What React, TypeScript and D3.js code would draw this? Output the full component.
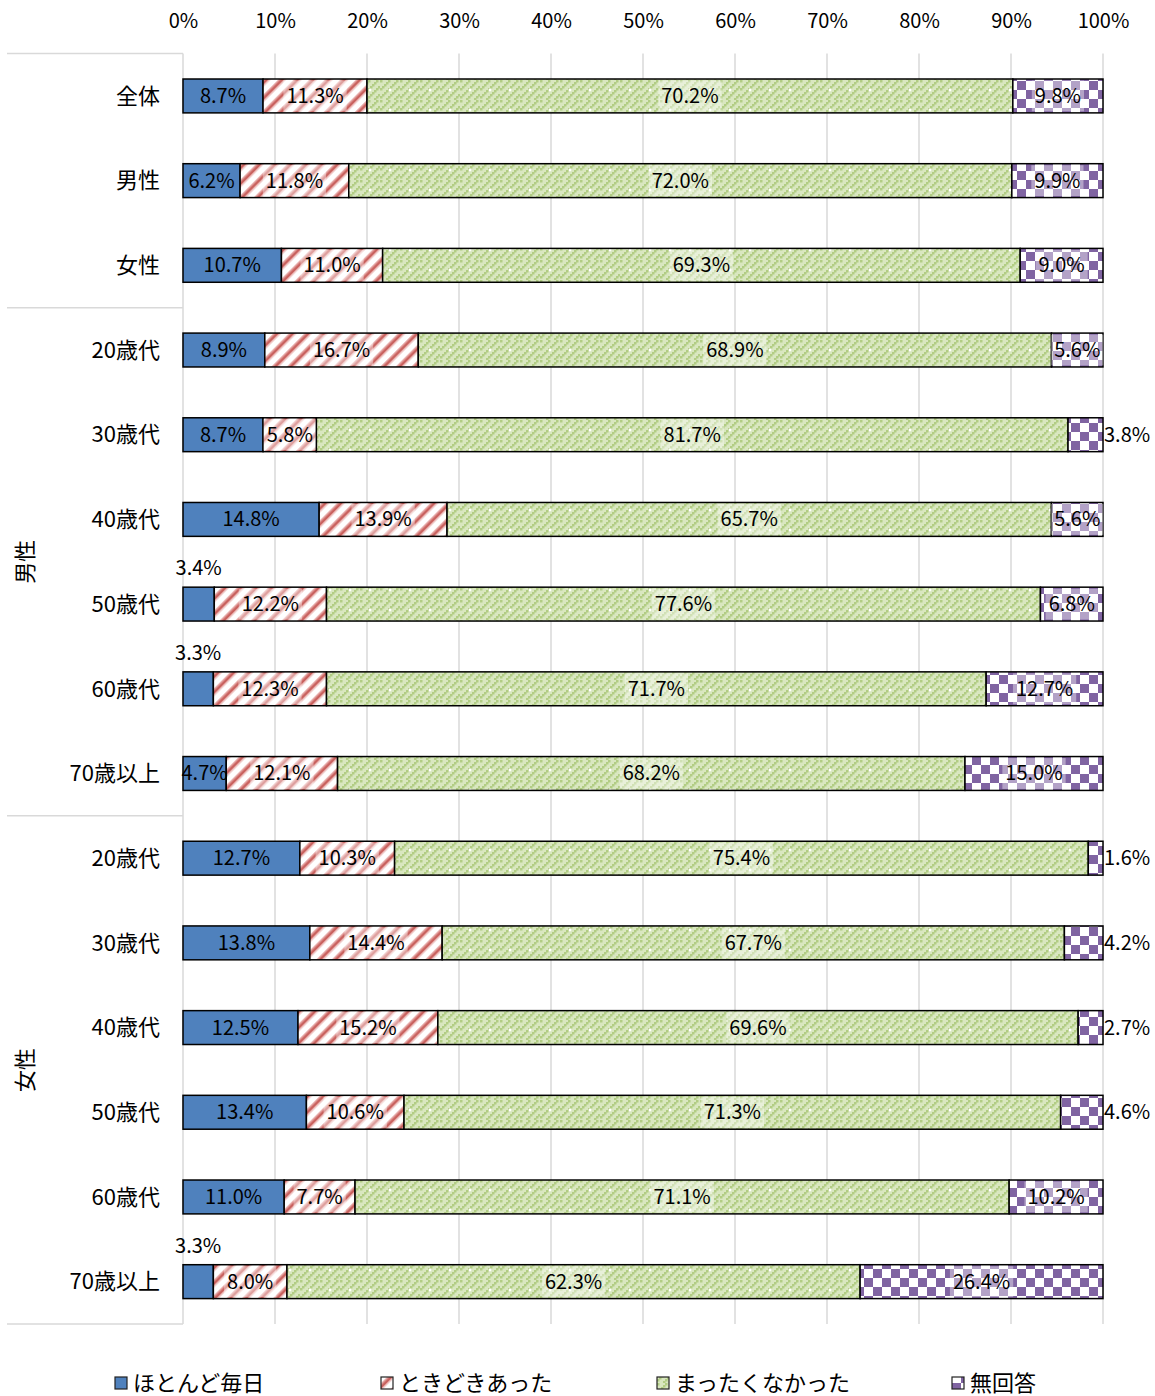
import React, { useEffect, useRef } from 'react';
import * as d3 from 'd3';

// row labels, top to bottom
const rowLabels = ['全体', '男性', '女性', '20歳代', '30歳代', '40歳代', '50歳代', '60歳代', '70歳以上', '20歳代', '30歳代', '40歳代', '50歳代', '60歳代', '70歳以上'];
const seriesNames = ['ほとんど毎日', 'ときどきあった', 'まったくなかった', '無回答'];

const almostDaily = [8.7, 6.2, 10.7, 8.9, 8.7, 14.8, 3.4, 3.3, 4.7, 12.7, 13.8, 12.5, 13.4, 11.0, 3.3];
const sometimes = [11.3, 11.8, 11.0, 16.7, 5.8, 13.9, 12.2, 12.3, 12.1, 10.3, 14.4, 15.2, 10.6, 7.7, 8.0];
const never = [70.2, 72.0, 69.3, 68.9, 81.7, 65.7, 77.6, 71.7, 68.2, 75.4, 67.7, 69.6, 71.3, 71.1, 62.3];
const noAnswer = [9.8, 9.9, 9.0, 5.6, 3.8, 5.6, 6.8, 12.7, 15.0, 1.6, 4.2, 2.7, 4.6, 10.2, 26.4];

// group brackets on the left: [label, first row, last row]
const groups: [string, number, number][] = [['', 0, 2], ['男性', 3, 8], ['女性', 9, 14]];

const tickValues = [0, 0.1, 0.2, 0.3, 0.4, 0.5, 0.6, 0.7, 0.8, 0.9, 1.0];

// labels drawn outside the bar: key = row-series
const aboveLabels = ['6-0', '7-0', '14-0'];
const rightLabels = ['4-3', '9-3', '10-3', '11-3', '12-3'];

const FONT = '"Noto Sans CJK JP", "Noto Sans", sans-serif';
const fills = ['#4f81bd', 'url(#pRed)', 'url(#pGreen)', 'url(#pPurple)'];

export default function App() {
  const ref = useRef<SVGSVGElement>(null);

  useEffect(() => {
    const svg = d3.select(ref.current);
    svg.selectAll('.chart').remove();
    const g = svg.append('g').attr('class', 'chart');

    const x = d3.scaleLinear().domain([0, 1]).range([183, 1103]);
    const y = d3.scaleBand<number>()
      .domain(d3.range(rowLabels.length))
      .range([53.6, 1324])
      .paddingInner(0.6)
      .paddingOuter(0.3);
    const step = y.step();
    const top = 53.6, bottom = 1324;

    // grid
    g.append('g').selectAll('line').data(tickValues.slice(1)).join('line')
      .attr('x1', d => x(d)).attr('x2', d => x(d))
      .attr('y1', top).attr('y2', bottom)
      .attr('stroke', '#d9d9d9').attr('stroke-width', 1.5);

    // top axis
    const axis = g.append('g').attr('transform', 'translate(0,21)')
      .call(d3.axisTop(x).tickValues(tickValues).tickSize(0).tickFormat(d3.format('.0%')));
    axis.select('.domain').remove();
    axis.selectAll('text').attr('font-family', FONT).attr('font-size', 20).attr('fill', '#000')
      .attr('dy', '0.35em').attr('y', 0);

    // left axis line and group separators
    g.append('line').attr('x1', 183).attr('x2', 183).attr('y1', top).attr('y2', bottom)
      .attr('stroke', '#d9d9d9').attr('stroke-width', 1.5);
    const seps = [0, 3, 9, 15].map(i => top + i * step);
    g.append('g').selectAll('line').data(seps).join('line')
      .attr('x1', 7).attr('x2', 183).attr('y1', d => d).attr('y2', d => d)
      .attr('stroke', '#d9d9d9').attr('stroke-width', 1.5);

    groups.filter(d => d[0]).forEach(([label, a, b]) => {
      const cy = (top + a * step + top + (b + 1) * step) / 2;
      g.append('text').attr('transform', `translate(25,${cy}) rotate(-90)`)
        .attr('text-anchor', 'middle').attr('dy', '0.35em')
        .attr('font-family', FONT).attr('font-size', 22).text(label);
    });

    // row labels
    g.append('g').selectAll('text').data(rowLabels).join('text')
      .attr('x', 160).attr('y', (d, i) => y(i)! + y.bandwidth() / 2)
      .attr('text-anchor', 'end').attr('dy', '0.35em')
      .attr('font-family', FONT).attr('font-size', 22).text(d => d);

    // stacked data
    const series = [almostDaily, sometimes, never, noAnswer];
    const rows = rowLabels.map((_, i) => {
      const vals = series.map(s => s[i]);
      const total = d3.sum(vals);
      let acc = 0;
      return vals.map((v, k) => {
        const seg = { row: i, k, v, x0: acc / total, x1: (acc + v) / total };
        acc += v;
        return seg;
      });
    });
    const segs = rows.flat();

    g.append('g').selectAll('rect').data(segs).join('rect')
      .attr('x', d => x(d.x0)).attr('width', d => x(d.x1) - x(d.x0))
      .attr('y', d => y(d.row)!).attr('height', y.bandwidth())
      .attr('fill', d => fills[d.k])
      .attr('stroke', '#000').attr('stroke-width', 1.5);

    // value labels
    const lg = g.append('g');
    segs.forEach(d => {
      const key = `${d.row}-${d.k}`;
      const cy = y(d.row)! + y.bandwidth() / 2;
      let tx = (x(d.x0) + x(d.x1)) / 2, ty = cy, anchor = 'middle', boxed = true;
      if (aboveLabels.includes(key)) { ty = y(d.row)! - 19; boxed = false; }
      if (rightLabels.includes(key)) { tx = x(1) + 1; anchor = 'start'; boxed = false; }
      const t = lg.append('text').attr('x', tx).attr('y', ty).attr('dy', '0.35em')
        .attr('text-anchor', anchor).attr('font-family', FONT).attr('font-size', 20)
        .attr('fill', '#000').text(d.v.toFixed(1) + '%');
      if (boxed && d.k > 0) {
        const bb = (t.node() as SVGTextElement).getBBox();
        lg.insert('rect', () => t.node())
          .attr('x', bb.x - 3).attr('y', y(d.row)! + 1.5)
          .attr('width', bb.width + 6).attr('height', y.bandwidth() - 3)
          .attr('fill', '#fff').attr('opacity', 0.4);
      }
    });

    // legend
    const legendX = [115, 381, 657, 952];
    const leg = g.append('g').selectAll('g').data(seriesNames).join('g')
      .attr('transform', (d, i) => `translate(${legendX[i]},1383)`);
    leg.append('rect').attr('x', 0).attr('y', -6).attr('width', 12).attr('height', 12)
      .attr('fill', (d, i) => fills[i]).attr('stroke', '#222').attr('stroke-width', 1.2);
    leg.append('text').attr('x', 18).attr('dy', '0.35em')
      .attr('font-family', FONT).attr('font-size', 22).text(d => d);
  }, []);

  return (
    <svg ref={ref} width={1155} height={1396}
      style={{ position: 'absolute', left: 0, top: 0, background: '#fff' }}>
      <defs>
        <pattern id="pRed" patternUnits="userSpaceOnUse" width={11} height={11}
          patternTransform="rotate(45)">
          <rect width={11} height={11} fill="#fff" />
          <rect x={0} width={5.5} height={11} fill="#eab3b1" />
          <rect x={1.5} width={2.5} height={11} fill="#c9625f" />
        </pattern>
        <pattern id="pGreen" patternUnits="userSpaceOnUse" width={20} height={20}>
          <rect width={20} height={20} fill="#d9e7c0" />
          <g fill="#b2cd84">
            {d3.range(5).flatMap(i => d3.range(5).map(j => (
              (i + j) % 2 === 0
                ? <rect key={`${i}-${j}`} x={i * 4} y={j * 4} width={2.5} height={2.5} />
                : <rect key={`${i}-${j}`} x={i * 4 + 2} y={j * 4 + 2} width={2.5} height={2.5} />
            )))}
          </g>
          <circle cx={10} cy={10} r={1.4} fill="#fff" />
        </pattern>
        <pattern id="pPurple" patternUnits="userSpaceOnUse" width={18} height={18}>
          <rect width={18} height={18} fill="#fff" />
          <rect width={9} height={9} fill="#8064a2" />
          <rect x={9} y={9} width={9} height={9} fill="#8064a2" />
        </pattern>
      </defs>
    </svg>
  );
}
